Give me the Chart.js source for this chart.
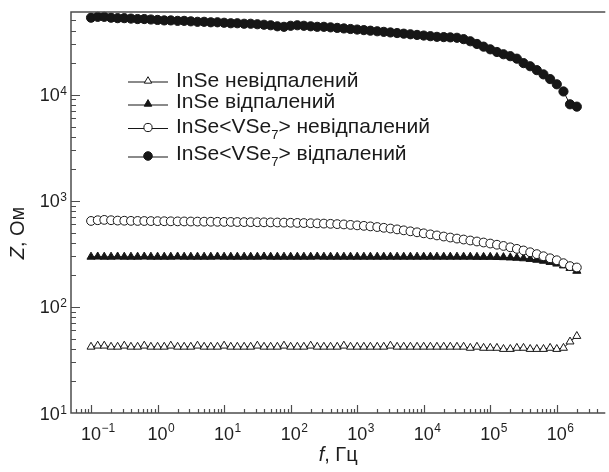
<!DOCTYPE html>
<html>
<head>
<meta charset="utf-8">
<script src="https://cdn.jsdelivr.net/npm/chart.js@4/dist/chart.umd.min.js"></script>
<style>
  html, body { margin: 0; padding: 0; background: #fff; }
  #zChart { display: block; }
</style>
</head>
<body>
<canvas id="zChart" width="609" height="472"></canvas>
<script>
// frequency, Hz (10 points per decade)
const freqHz = [
  0.1, 0.126, 0.158, 0.2, 0.251, 0.316, 0.398, 0.501, 0.631, 0.794,
  1, 1.26, 1.58, 2, 2.51, 3.16, 3.98, 5.01, 6.31, 7.94,
  10, 12.6, 15.8, 20, 25.1, 31.6, 39.8, 50.1, 63.1, 79.4,
  100, 126, 158, 200, 251, 316, 398, 501, 631, 794,
  1000, 1260, 1580, 2000, 2510, 3160, 3980, 5010, 6310, 7940,
  1e4, 1.26e4, 1.58e4, 2e4, 2.51e4, 3.16e4, 3.98e4, 5.01e4, 6.31e4, 7.94e4,
  1e5, 1.26e5, 1.58e5, 2e5, 2.51e5, 3.16e5, 3.98e5, 5.01e5, 6.31e5, 7.94e5,
  1e6, 1.26e6, 1.58e6, 2e6
];

// Z, Ohm - InSe not annealed (open triangles)
const inseRaw = [
  42, 43, 43, 42, 42, 43, 42, 42, 43, 42,
  42, 42, 43, 42, 42, 42, 43, 42, 42, 42,
  43, 42, 42, 42, 42, 43, 42, 42, 42, 43,
  42, 42, 42, 43, 42, 42, 42, 42, 43, 42,
  42, 42, 42, 42, 42, 43, 42, 42, 42, 42,
  42, 42, 42, 42, 42, 42, 42, 41, 42, 41,
  41, 41, 40, 40, 41, 41, 40, 40, 40, 41,
  40, 41, 47, 53
];

// InSe annealed (filled triangles)
const inseAnn = [
  296, 297, 296, 296, 297, 296, 296, 296, 297, 296,
  296, 296, 296, 297, 296, 296, 296, 296, 296, 297,
  296, 296, 296, 296, 296, 296, 297, 296, 296, 296,
  296, 296, 296, 296, 297, 296, 296, 296, 296, 296,
  296, 296, 296, 296, 296, 296, 296, 296, 296, 296,
  296, 296, 296, 296, 296, 296, 296, 296, 295, 295,
  295, 294, 293, 291, 289, 286, 282, 277, 271, 264,
  255, 245, 232, 218
];

// InSe<VSe7> not annealed (open circles)
const vseRaw = [
  645, 655, 660, 655, 650, 648, 646, 645, 644, 643,
  642, 641, 640, 639, 638, 637, 636, 635, 634, 633,
  632, 631, 630, 629, 628, 627, 626, 625, 624, 622,
  620, 618, 616, 614, 612, 609, 606, 602, 598, 592,
  586, 580, 573, 565, 556, 547, 537, 526, 515, 504,
  493, 482, 471, 460, 450, 440, 431, 422, 413, 404,
  395, 385, 375, 364, 352, 340, 327, 314, 300, 287,
  275, 258, 242, 235
];

// InSe<VSe7> annealed (filled circles)
const vseAnn = [
  53000, 54000, 54000, 53000, 52500, 52500, 52000, 51500, 51500, 51000,
  50500, 50000, 50000, 49500, 49500, 49000, 48500, 48500, 48000, 48000,
  47500, 47000, 47000, 46500, 46500, 46000, 45500, 45000, 44000, 43500,
  44500, 45000, 44500, 44000, 43500, 43500, 43000, 42500, 42000, 41500,
  41000, 40500, 40000, 39500, 39000, 38500, 38000, 37500, 37000, 36500,
  36000, 35500, 35000, 34800, 34600, 34300, 33300, 31800, 30000, 28300,
  26700, 25200, 24000, 23000, 21800, 19800, 18500, 17000, 15500, 14000,
  12500, 10700, 8100, 7700
];

// legend text, split so the subscript can be drawn smaller
const seriesLabels = [
  [['InSe невідпалений', false]],
  [['InSe відпалений', false]],
  [['InSe<VSe', false], ['7', true], ['> невідпалений', false]],
  [['InSe<VSe', false], ['7', true], ['> відпалений', false]]
];

// decades for axis ticks
const xDecades = [-2, -1, 0, 1, 2, 3, 4, 5, 6];
const yDecades = [1, 2, 3, 4];
const xLabelExp = [-1, 0, 1, 2, 3, 4, 5, 6];
const yLabelExp = [1, 2, 3, 4];

const ink = '#161616';
const axisGray = '#4d4d4d';

const markerStyles = [
  { pointStyle: 'triangle', radius: 4.6, fill: '#ffffff' },
  { pointStyle: 'triangle', radius: 4.7, fill: ink },
  { pointStyle: 'circle', radius: 4.4, fill: '#ffffff' },
  { pointStyle: 'circle', radius: 4.6, fill: ink }
];
const drawOrder = [3, 2, 1, 4];

function toPoints(values) {
  return freqHz.map((f, i) => ({ x: f, y: values[i] }));
}

const seriesValues = [inseRaw, inseAnn, vseRaw, vseAnn];

const datasets = seriesValues.map((vals, i) => ({
  data: toPoints(vals),
  showLine: true,
  borderColor: ink,
  borderWidth: 1,
  pointStyle: markerStyles[i].pointStyle,
  pointRadius: markerStyles[i].radius,
  pointBackgroundColor: markerStyles[i].fill,
  pointBorderColor: ink,
  pointBorderWidth: 1,
  order: drawOrder[i],
  clip: false
}));

function expText(exp) {
  return String(exp).replace('-', '\u2212');
}

// draws axes box, inward ticks, power-of-ten labels, titles and the legend
const decorPlugin = {
  id: 'decor',
  afterDraw(chart) {
    const ctx = chart.ctx;
    const a = chart.chartArea;
    const xs = chart.scales.x;
    const ys = chart.scales.y;
    ctx.save();

    // frame: top, left, bottom
    ctx.strokeStyle = axisGray;
    ctx.lineWidth = 1.5;
    ctx.beginPath();
    ctx.moveTo(a.right + 2, a.top);
    ctx.lineTo(a.left, a.top);
    ctx.lineTo(a.left, a.bottom);
    ctx.lineTo(a.right + 2, a.bottom);
    ctx.stroke();

    // ticks pointing into the plot
    ctx.lineWidth = 1.2;
    ctx.beginPath();
    xDecades.forEach(e => {
      for (let m = 1; m <= 9; m++) {
        const v = m * Math.pow(10, e);
        if (v <= xs.min || v >= xs.max) continue;
        const px = Math.round(xs.getPixelForValue(v)) + 0.5;
        const len = m === 1 ? 8 : 4;
        ctx.moveTo(px, a.bottom);
        ctx.lineTo(px, a.bottom - len);
      }
    });
    yDecades.forEach(e => {
      for (let m = 1; m <= 9; m++) {
        const v = m * Math.pow(10, e);
        if (v <= ys.min || v >= ys.max) continue;
        const py = Math.round(ys.getPixelForValue(v)) + 0.5;
        const len = m === 1 ? 9 : 5;
        ctx.moveTo(a.left, py);
        ctx.lineTo(a.left + len, py);
      }
    });
    ctx.stroke();

    // tick labels 10^n
    ctx.fillStyle = '#1e1e1e';
    ctx.textBaseline = 'alphabetic';
    ctx.textAlign = 'left';
    const baseFont = '18px "Liberation Sans", Arial, sans-serif';
    const expFont = '12px "Liberation Sans", Arial, sans-serif';

    xLabelExp.forEach(e => {
      const px = xs.getPixelForValue(Math.pow(10, e));
      ctx.font = baseFont;
      const w = ctx.measureText('10').width;
      ctx.fillText('10', px - w / 2, 440);
      ctx.font = expFont;
      ctx.fillText(expText(e), px + w / 2 + 0.5, 431.5);
    });

    yLabelExp.forEach(e => {
      const py = ys.getPixelForValue(Math.pow(10, e));
      ctx.font = expFont;
      const ew = ctx.measureText(expText(e)).width;
      const expX = 67 - ew;
      ctx.fillText(expText(e), expX, py + 0.5);
      ctx.font = baseFont;
      const w = ctx.measureText('10').width;
      ctx.fillText('10', expX - w - 0.5, py + 6.5);
    });

    // axis titles
    const titleSize = 20;
    const italic = `italic ${titleSize}px "Liberation Sans", Arial, sans-serif`;
    const upright = `${titleSize}px "Liberation Sans", Arial, sans-serif`;

    function titleParts(parts) {
      let total = 0;
      const widths = parts.map(p => {
        ctx.font = p[1] ? italic : upright;
        const w = ctx.measureText(p[0]).width;
        total += w;
        return w;
      });
      return { widths, total };
    }

    const xTitle = [['f', true], [', Гц', false]];
    let m = titleParts(xTitle);
    let tx = (a.left + a.right) / 2 + 1 - m.total / 2;
    xTitle.forEach((p, i) => {
      ctx.font = p[1] ? italic : upright;
      ctx.fillText(p[0], tx, 461);
      tx += m.widths[i];
    });

    const yTitle = [['Z', true], [', Ом', false]];
    m = titleParts(yTitle);
    ctx.save();
    ctx.translate(24, 233);
    ctx.rotate(-Math.PI / 2);
    tx = -m.total / 2;
    yTitle.forEach((p, i) => {
      ctx.font = p[1] ? italic : upright;
      ctx.fillText(p[0], tx, 0);
      tx += m.widths[i];
    });
    ctx.restore();

    // legend
    const legX = 128;
    const legRows = [79.5, 100, 125.5, 152];
    const symDrop = [1.5, 4, 2, 4];
    const legFont = '21px "Liberation Sans", Arial, sans-serif';
    const subFont = '13px "Liberation Sans", Arial, sans-serif';
    seriesLabels.forEach((segs, i) => {
      const cy = legRows[i];
      const sy = cy + symDrop[i];
      const st = markerStyles[i];
      ctx.strokeStyle = ink;
      ctx.lineWidth = 1.2;
      ctx.beginPath();
      ctx.moveTo(legX, sy + 1);
      ctx.lineTo(legX + 40, sy + 1);
      ctx.stroke();
      ctx.fillStyle = st.fill;
      ctx.strokeStyle = ink;
      ctx.lineWidth = 1;
      Chart.helpers.drawPoint(ctx, {
        pointStyle: st.pointStyle,
        radius: st.radius - 0.3,
        borderWidth: 1,
        rotation: 0
      }, legX + 20, sy);

      ctx.fillStyle = '#1a1a1a';
      let x = legX + 48;
      segs.forEach(s => {
        if (s[1]) {
          ctx.font = subFont;
          ctx.fillText(s[0], x, cy + 13.5);
        } else {
          ctx.font = legFont;
          ctx.fillText(s[0], x, cy + 7.5);
        }
        x += ctx.measureText(s[0]).width;
      });
    });

    ctx.restore();
  }
};

new Chart(document.getElementById('zChart'), {
  type: 'scatter',
  data: { datasets },
  options: {
    responsive: false,
    devicePixelRatio: 1,
    animation: false,
    layout: { padding: { top: 12, right: 0, bottom: 0, left: 0 } },
    plugins: {
      legend: { display: false },
      tooltip: { enabled: false }
    },
    scales: {
      x: {
        type: 'logarithmic',
        min: 0.05,
        max: 5e6,
        grid: { display: false },
        border: { display: false },
        ticks: { display: false },
        afterFit(scale) { scale.height = 59; }
      },
      y: {
        type: 'logarithmic',
        min: 10,
        max: 60000,
        grid: { display: false },
        border: { display: false },
        ticks: { display: false },
        afterFit(scale) { scale.width = 71; }
      }
    }
  },
  plugins: [decorPlugin]
});
</script>
</body>
</html>
